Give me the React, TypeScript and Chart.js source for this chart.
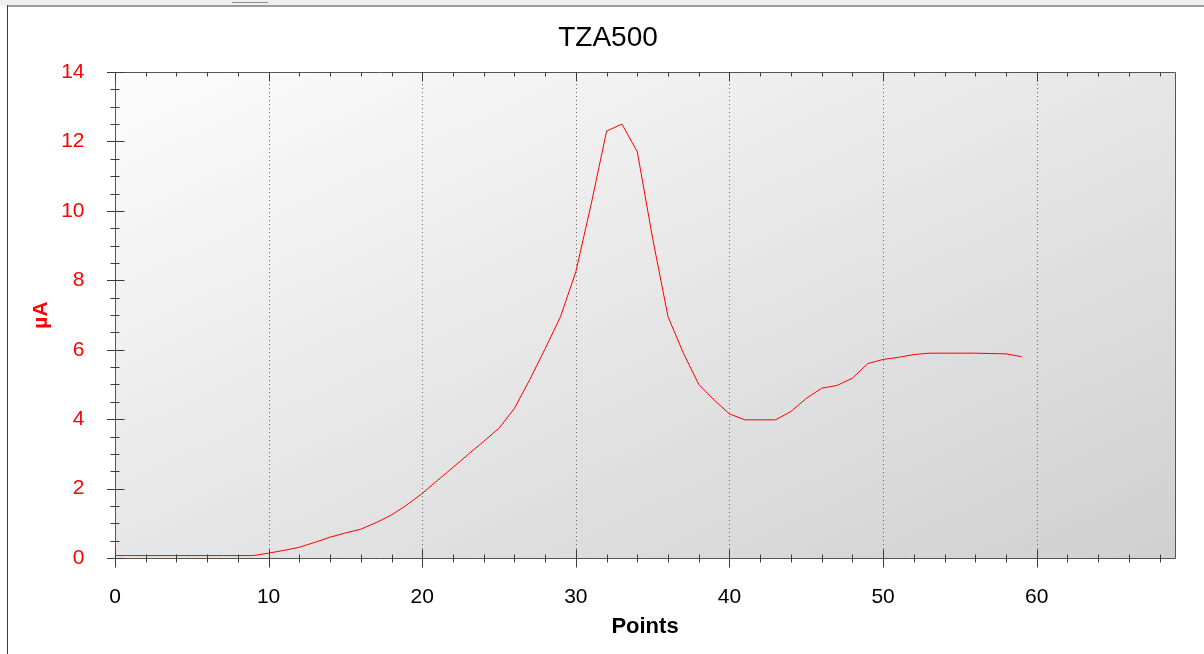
import React, { useEffect, useRef } from 'react';
import { Chart, registerables } from 'chart.js';

Chart.register(...registerables);

const FONT = '"Liberation Sans", Arial, sans-serif';

const chartTitle = 'TZA500';
const xAxisTitle = 'Points';
const yAxisTitle = 'µA';

const pointIndex = [
  0, 1, 2, 3, 4, 5, 6, 7, 8, 9,
  10, 11, 12, 13, 14, 15, 16, 17, 18, 19,
  20, 21, 22, 23, 24, 25, 26, 27, 28, 29,
  30, 31, 32, 33, 34, 35, 36, 37, 38, 39,
  40, 41, 42, 43, 44, 45, 46, 47, 48, 49,
  50, 51, 52, 53, 54, 55, 56, 57, 58, 59,
];

const currentUA = [
  0.07, 0.07, 0.07, 0.07, 0.07, 0.07, 0.07, 0.07, 0.07, 0.07,
  0.14, 0.22, 0.31, 0.45, 0.6, 0.72, 0.83, 1.02, 1.24, 1.53,
  1.86, 2.24, 2.61, 2.99, 3.36, 3.74, 4.31, 5.14, 6.03, 6.95,
  8.25, 10.2, 12.3, 12.5, 11.7, 9.2, 6.95, 5.9, 5.0, 4.55,
  4.15, 3.98, 3.98, 3.98, 4.22, 4.6, 4.89, 4.97, 5.18, 5.6,
  5.72, 5.78, 5.86, 5.9, 5.9, 5.9, 5.9, 5.89, 5.88, 5.8,
];

const xMin = 0;
const xMax = 69;
const xMajorStep = 10;
const xMinorStep = 2;
const yMin = 0;
const yMax = 14;
const yMajorStep = 2;
const yMinorStep = 0.5;

const framePlugin = {
  id: 'framePlugin',
  beforeDraw(chart: any) {
    const { ctx, chartArea: a, width, height } = chart;
    const xs = chart.scales.x;
    ctx.save();
    ctx.fillStyle = '#ffffff';
    ctx.fillRect(0, 0, width, height);
    ctx.fillStyle = '#efefef';
    ctx.fillRect(0, 0, width, 5);
    ctx.fillStyle = '#9c9c9c';
    ctx.fillRect(7, 5, width - 7, 2);
    ctx.fillStyle = '#3c3c3c';
    ctx.fillRect(7, 5, 1, height - 5);
    ctx.fillStyle = '#8c8c8c';
    ctx.fillRect(232, 2, 36, 1);

    // diagonal gradient whose iso-lines run parallel to the bottom-left/top-right diagonal
    const w = a.right - a.left;
    const h = a.bottom - a.top;
    const k = (2 * w * h) / (w * w + h * h);
    const g = ctx.createLinearGradient(a.left, a.top, a.left + h * k, a.top + w * k);
    g.addColorStop(0, '#fcfcfc');
    g.addColorStop(1, '#d0d0d0');
    ctx.fillStyle = g;
    ctx.fillRect(a.left, a.top, w, h);

    ctx.strokeStyle = '#6a6a6a';
    ctx.lineWidth = 1;
    ctx.setLineDash([1, 3]);
    for (let v = xMin + xMajorStep; v < xMax; v += xMajorStep) {
      const px = Math.round(xs.getPixelForValue(v)) + 0.5;
      ctx.beginPath();
      ctx.moveTo(px, a.top);
      ctx.lineTo(px, a.bottom);
      ctx.stroke();
    }
    ctx.restore();
  },
  afterDraw(chart: any) {
    const { ctx, chartArea: a } = chart;
    const xs = chart.scales.x;
    const ys = chart.scales.y;
    const L = Math.round(a.left) + 0.5;
    const R = Math.round(a.right) + 0.5;
    const T = Math.round(a.top) + 0.5;
    const B = Math.round(a.bottom) + 0.5;
    ctx.save();
    ctx.setLineDash([]);
    ctx.lineWidth = 1;
    ctx.strokeStyle = '#555555';
    ctx.beginPath();
    ctx.moveTo(L, T);
    ctx.lineTo(R, T);
    ctx.lineTo(R, B);
    ctx.lineTo(L, B);
    ctx.closePath();
    ctx.stroke();

    ctx.strokeStyle = '#3a3a3a';
    ctx.beginPath();
    for (let v = yMin; v <= yMax + 1e-9; v += yMinorStep) {
      const py = Math.round(ys.getPixelForValue(v)) + 0.5;
      const major = Math.abs(v / yMajorStep - Math.round(v / yMajorStep)) < 1e-6;
      if (major) {
        ctx.moveTo(L - 8.5, py);
        ctx.lineTo(L + 9, py);
      } else {
        ctx.moveTo(L - 5, py);
        ctx.lineTo(L + 4, py);
      }
    }
    for (let v = xMin; v < xMax; v += xMinorStep) {
      const px = Math.round(xs.getPixelForValue(v)) + 0.5;
      const major = v % xMajorStep === 0;
      if (major) {
        ctx.moveTo(px, B - 9);
        ctx.lineTo(px, B + 9);
        ctx.moveTo(px, T);
        ctx.lineTo(px, T + 9);
      } else {
        ctx.moveTo(px, B - 4);
        ctx.lineTo(px, B + 4);
        ctx.moveTo(px, T);
        ctx.lineTo(px, T + 4);
      }
    }
    ctx.stroke();
    ctx.restore();
  },
};

export default function App() {
  const canvasRef = useRef<HTMLCanvasElement | null>(null);

  useEffect(() => {
    const canvas = canvasRef.current;
    if (!canvas) return;
    const data = pointIndex.map((x, i) => ({ x, y: currentUA[i] }));
    const chart = new Chart(canvas, {
      type: 'line',
      data: {
        datasets: [
          {
            label: chartTitle,
            data,
            borderColor: 'rgb(255, 0, 0)',
            borderWidth: 1,
            pointRadius: 0,
            pointHoverRadius: 0,
            tension: 0,
            fill: false,
          },
        ],
      },
      options: {
        responsive: false,
        animation: false,
        devicePixelRatio: 1,
        layout: { padding: { left: 41, right: 29, top: 0, bottom: 0 } },
        plugins: {
          legend: { display: false },
          tooltip: { enabled: false },
          title: {
            display: true,
            text: chartTitle,
            color: '#000000',
            font: { family: FONT, size: 28, weight: 'normal' },
            padding: { top: 21.5, bottom: 16.9 },
          },
        },
        scales: {
          x: {
            type: 'linear',
            min: xMin,
            max: xMax,
            afterBuildTicks: (scale: any) => {
              scale.ticks = scale.ticks.filter((t: any) => t.value % xMajorStep === 0);
            },
            afterFit: (scale: any) => {
              scale.height = 96;
            },
            grid: { display: false },
            border: { display: false },
            ticks: {
              stepSize: xMajorStep,
              color: '#000000',
              font: { family: FONT, size: 21 },
              padding: 19,
              maxRotation: 0,
              autoSkip: false,
            },
            title: {
              display: true,
              text: xAxisTitle,
              color: '#000000',
              font: { family: FONT, size: 22, weight: 'bold' },
              padding: { top: 0, bottom: 13.8 },
            },
          },
          y: {
            type: 'linear',
            min: yMin,
            max: yMax,
            afterFit: (scale: any) => {
              scale.width = 74;
            },
            grid: { display: false },
            border: { display: false },
            ticks: {
              stepSize: yMajorStep,
              color: 'rgb(255, 0, 0)',
              font: { family: FONT, size: 21 },
              padding: 22.5,
            },
            title: {
              display: true,
              text: yAxisTitle,
              color: 'rgb(255, 0, 0)',
              font: { family: FONT, size: 21, weight: 'bold' },
              padding: { top: -12.6, bottom: 0 },
            },
          },
        },
      },
      plugins: [framePlugin],
    });
    return () => chart.destroy();
  }, []);

  return (
    <div style={{ position: 'fixed', left: 0, top: 0, width: 1204, height: 654 }}>
      <canvas ref={canvasRef} width={1204} height={654} />
    </div>
  );
}
